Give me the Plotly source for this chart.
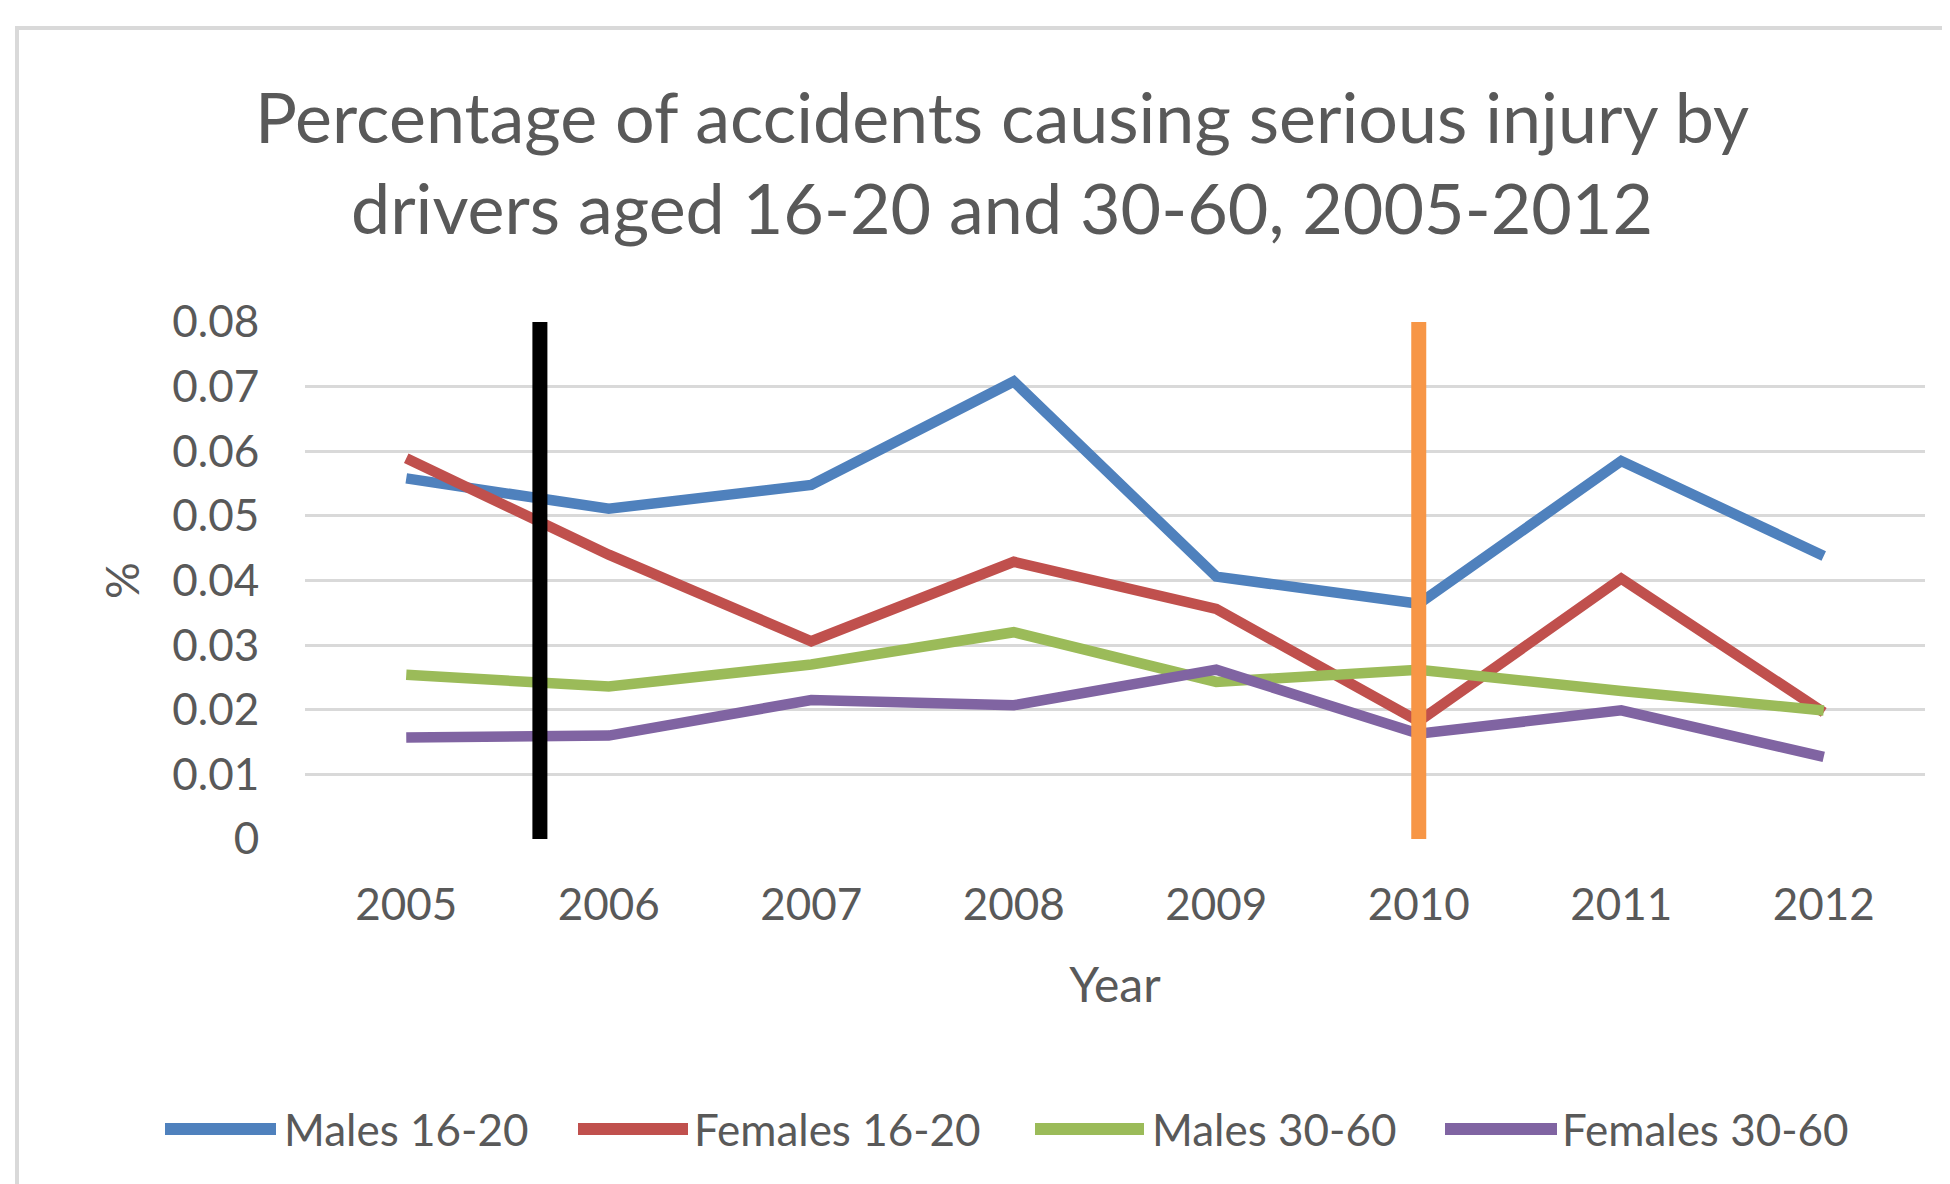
import plotly.graph_objects as go

years = [2005, 2006, 2007, 2008, 2009, 2010, 2011, 2012]
males_16_20 = [0.0558, 0.0511, 0.0548, 0.0708, 0.0406, 0.0364, 0.0585, 0.0438]
females_16_20 = [0.0589, 0.0440, 0.0306, 0.0429, 0.0356, 0.0182, 0.0403, 0.0196]
males_30_60 = [0.0254, 0.0236, 0.0270, 0.0320, 0.0243, 0.0262, 0.0229, 0.0199]
females_30_60 = [0.0157, 0.0160, 0.0215, 0.0207, 0.0262, 0.0163, 0.0199, 0.0127]
series_names = ["Males 16-20", "Females 16-20", "Males 30-60", "Females 30-60"]
series_colors = ["#4F81BD", "#C0504D", "#9BBB59", "#8064A2"]

marker_x = [2005.66, 2010.0]
marker_colors = ["#000000", "#F79646"]
marker_y = [0, 0.08]

y_ticks = [0, 0.01, 0.02, 0.03, 0.04, 0.05, 0.06, 0.07, 0.08]
y_tick_labels = ["0", "0.01", "0.02", "0.03", "0.04", "0.05", "0.06", "0.07", "0.08"]

FONT = "Lato"
TXT = "#595959"

fig = go.Figure()
for name, vals, col in zip(series_names, [males_16_20, females_16_20, males_30_60, females_30_60], series_colors):
    fig.add_trace(go.Scatter(x=years, y=vals, name=name, mode="lines",
                             line=dict(color=col, width=10.5), showlegend=False))
for mx, mc in zip(marker_x, marker_colors):
    fig.add_trace(go.Scatter(x=[mx, mx], y=marker_y, mode="lines",
                             line=dict(color=mc, width=15), showlegend=False, hoverinfo="skip"))

# figure coordinates (page has an 8px body margin)
L, R, T, B = 297, 1917, 314, 831
def px(x):
    return (x - L) / (R - L)
def py(y):
    return (B - y) / (B - T)

leg_samples = [(157, 268), (570, 680), (1027, 1136), (1437, 1549)]
leg_text_x = [274, 684, 1142, 1552]
leg_y = 1121
shapes = []
annotations = []
for (x0, x1), tx, name, col in zip(leg_samples, leg_text_x, series_names, series_colors):
    shapes.append(dict(type="line", xref="paper", yref="paper", x0=px(x0), x1=px(x1),
                       y0=py(leg_y), y1=py(leg_y), line=dict(color=col, width=12)))
    annotations.append(dict(text=name, xref="paper", yref="paper", x=px(tx), y=py(leg_y),
                            xanchor="left", yanchor="middle", showarrow=False,
                            font=dict(family=FONT, size=44, color=TXT)))

# chart border
shapes.append(dict(type="rect", xref="paper", yref="paper", x0=px(9), x1=px(2100),
                   y0=py(1400), y1=py(20), line=dict(color="#D9D9D9", width=4), layer="below"))

fig.update_layout(
    width=1950, height=1184,
    margin=dict(l=L, r=1950 - R, t=T, b=1184 - B),
    paper_bgcolor="white", plot_bgcolor="white",
    title=dict(text="Percentage of accidents causing serious injury by<br>drivers aged 16-20 and 30-60, 2005-2012",
               x=994 / 1950, xanchor="center", y=1 - 135 / 1184, yanchor="middle",
               font=dict(family=FONT, size=70, color=TXT)),
    xaxis=dict(range=[2004.5, 2012.5], tickmode="array", tickvals=years,
               ticktext=[str(y) for y in years], showgrid=False, zeroline=False,
               ticks="outside", ticklen=27, tickcolor="rgba(0,0,0,0)",
               tickfont=dict(family=FONT, size=44, color=TXT),
               title=dict(text="Year", font=dict(family=FONT, size=48, color=TXT), standoff=40)),
    yaxis=dict(range=[0, 0.08], tickmode="array", tickvals=y_ticks, ticktext=y_tick_labels,
               showgrid=True, gridcolor="#D9D9D9", gridwidth=3, zeroline=False,
               ticks="outside", ticklen=36, tickcolor="rgba(0,0,0,0)",
               tickfont=dict(family=FONT, size=44, color=TXT),
               title=dict(text="%", font=dict(family=FONT, size=46, color=TXT), standoff=18)),
    shapes=shapes, annotations=annotations, showlegend=False,
)
fig.write_html("out.html")
